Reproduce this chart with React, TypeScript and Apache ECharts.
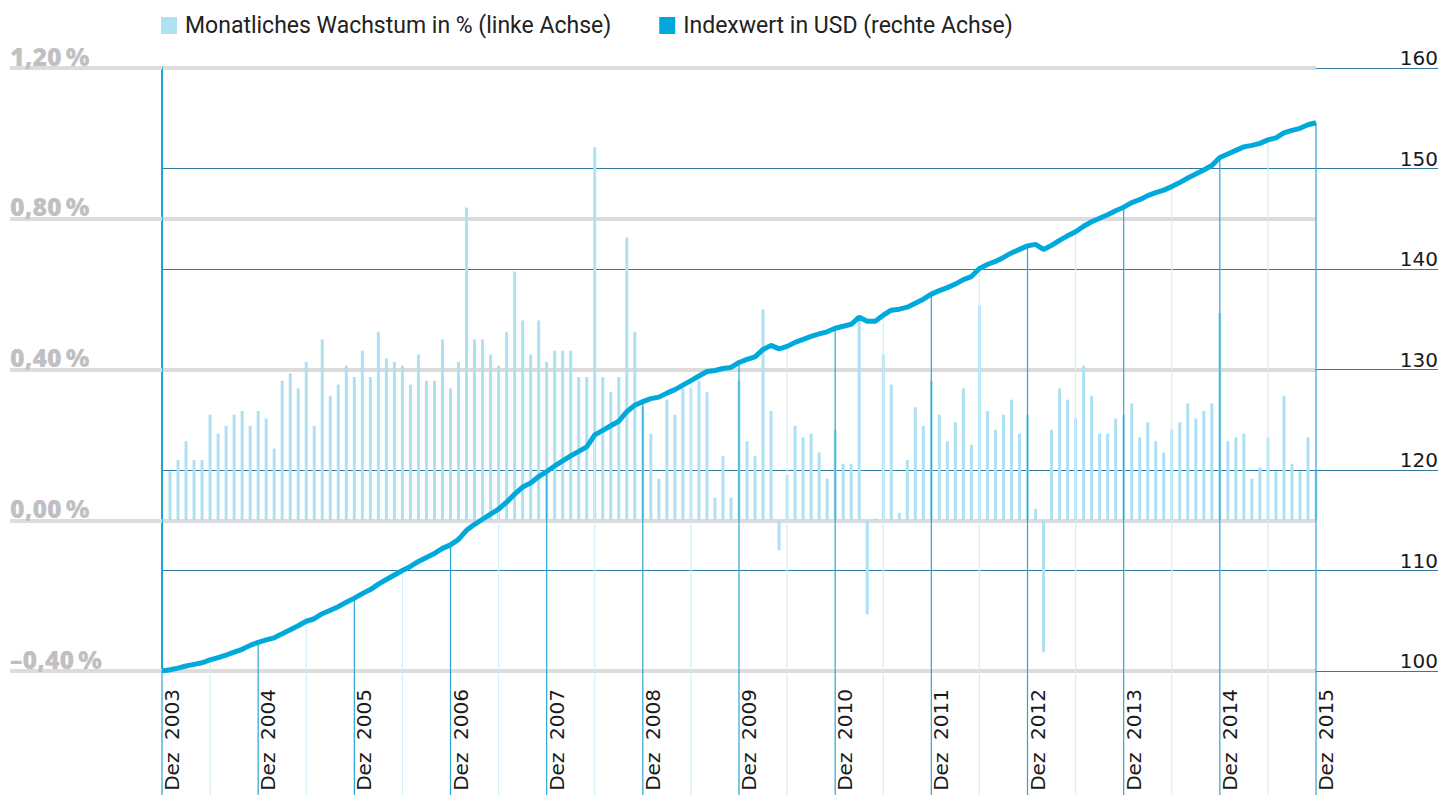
import { useEffect, useRef } from "react";
import * as echarts from "echarts";

// Month names (German) used for category labels
const MONTHS = ["Jan", "Feb", "Mär", "Apr", "Mai", "Jun", "Jul", "Aug", "Sep", "Okt", "Nov", "Dez"];

// Categories: Dez 2003 ... Dez 2015 (145 months)
const categories: string[] = [];
for (let i = 0; i <= 144; i++) {
  const m = (11 + i) % 12;
  const y = 2003 + Math.floor((11 + i) / 12);
  categories.push(`${MONTHS[m]}  ${y}`);
}

// Monthly growth in % (Jan 2004 ... Dez 2015), left axis
const growth: number[] = [
  0.13, 0.16, 0.21, 0.16, 0.16, 0.28, 0.23, 0.25, 0.28, 0.29, 0.25, 0.29,
  0.27, 0.19, 0.37, 0.39, 0.35, 0.42, 0.25, 0.48, 0.33, 0.36, 0.41, 0.38,
  0.45, 0.38, 0.50, 0.43, 0.42, 0.41, 0.36, 0.44, 0.37, 0.37, 0.48, 0.35,
  0.42, 0.83, 0.48, 0.48, 0.44, 0.41, 0.50, 0.66, 0.53, 0.44, 0.53, 0.42,
  0.45, 0.45, 0.45, 0.38, 0.38, 0.99, 0.38, 0.34, 0.38, 0.75, 0.50, 0.30,
  0.23, 0.11, 0.32, 0.28, 0.35, 0.35, 0.37, 0.34, 0.06, 0.17, 0.06, 0.37,
  0.21, 0.17, 0.56, 0.29, -0.08, 0.12, 0.25, 0.22, 0.23, 0.18, 0.11, 0.24,
  0.15, 0.15, 0.53, -0.25, 0.005, 0.44, 0.36, 0.02, 0.16, 0.30, 0.25, 0.37,
  0.28, 0.21, 0.26, 0.35, 0.20, 0.57, 0.29, 0.24, 0.28, 0.32, 0.23, 0.28,
  0.03, -0.35, 0.24, 0.35, 0.32, 0.27, 0.41, 0.33, 0.23, 0.23, 0.27, 0.28,
  0.31, 0.22, 0.26, 0.21, 0.18, 0.24, 0.26, 0.31, 0.27, 0.29, 0.31, 0.55,
  0.21, 0.22, 0.23, 0.11, 0.14, 0.22, 0.13, 0.33, 0.15, 0.13, 0.22, 0.13,
];

// Index value in USD (Dez 2003 ... Dez 2015), right axis
const indexValue: number[] = [
  100.0,
  100.13, 100.29, 100.5, 100.66, 100.82, 101.1, 101.33, 101.58, 101.87, 102.16, 102.55, 102.85,
  103.1, 103.3, 103.7, 104.1, 104.5, 104.95, 105.2, 105.7, 106.05, 106.4, 106.85, 107.25,
  107.7, 108.1, 108.65, 109.1, 109.55, 110.0, 110.4, 110.9, 111.3, 111.7, 112.2, 112.55,
  113.1, 114.0, 114.6, 115.1, 115.6, 116.1, 116.8, 117.6, 118.3, 118.7, 119.35, 119.85,
  120.4, 120.9, 121.4, 121.85, 122.3, 123.5, 123.95, 124.4, 124.85, 125.8, 126.45, 126.8,
  127.1, 127.25, 127.65, 128.0, 128.45, 128.9, 129.35, 129.8, 129.9, 130.1, 130.2, 130.7,
  131.0, 131.25, 132.0, 132.4, 132.05, 132.3, 132.7, 133.0, 133.3, 133.55, 133.75, 134.1,
  134.3, 134.5, 135.2, 134.8, 134.8, 135.4, 135.9, 136.0, 136.2, 136.6, 137.0, 137.5,
  137.85, 138.15, 138.5, 138.95, 139.25, 140.05, 140.45, 140.75, 141.15, 141.6, 141.95, 142.3,
  142.45, 141.95, 142.35, 142.85, 143.3, 143.7, 144.25, 144.7, 145.05, 145.4, 145.8, 146.15,
  146.6, 146.9, 147.3, 147.6, 147.85, 148.2, 148.6, 149.05, 149.45, 149.85, 150.3, 151.1,
  151.45, 151.8, 152.15, 152.3, 152.5, 152.85, 153.05, 153.55, 153.8, 154.0, 154.35, 154.55,
];

// Axis ticks
const leftTicks: number[] = [-0.4, 0, 0.4, 0.8, 1.2];
const rightTicks: number[] = [100, 110, 120, 130, 140, 150, 160];

const BAR_NAME = "Monatliches Wachstum in % (linke Achse)";
const LINE_NAME = "Indexwert in USD (rechte Achse)";

export default function App() {
  const ref = useRef<HTMLDivElement>(null);

  useEffect(() => {
    if (!ref.current) return;
    const chart = echarts.init(ref.current, undefined, { renderer: "svg" });

    const barData: (number | string)[] = ["-", ...growth];
    const dropData: number[][] = [];
    for (let i = 0; i < indexValue.length; i++) {
      if (i % 6 === 0) dropData.push([i, indexValue[i], i % 12 === 0 ? 1 : 0]);
    }

    const grayLine = "#dcdcdc";
    const blueGrid = "#33799f";

    chart.setOption({
      animation: false,
      backgroundColor: "#ffffff",
      legend: {
        left: 161,
        top: 14,
        padding: 0,
        itemWidth: 16,
        itemHeight: 17,
        itemGap: 48,
        textStyle: {
          fontFamily: "Roboto",
          fontSize: 23,
          color: "#222222",
          padding: [0, 0, 0, 3],
        },
        data: [
          { name: BAR_NAME, icon: "rect", itemStyle: { color: "#aee1f3" } },
          { name: LINE_NAME, icon: "rect", itemStyle: { color: "#00a9dc" } },
        ],
        selectedMode: false,
      },
      grid: { left: 162, right: 140, top: 68, bottom: 130, containLabel: false },
      xAxis: {
        type: "category",
        data: categories,
        boundaryGap: false,
        axisLine: { show: false },
        axisTick: { show: false },
        splitLine: { show: false },
        axisLabel: {
          interval: (idx: number) => idx % 12 === 0,
          rotate: 90,
          margin: 18,
          verticalAlign: "top",
          fontFamily: "DejaVu Sans",
          fontSize: 20,
          color: "#1a1a1a",
          formatter: (v: string) => v,
        },
      },
      yAxis: [
        {
          type: "value",
          min: leftTicks[0],
          max: leftTicks[leftTicks.length - 1],
          interval: leftTicks[1] - leftTicks[0],
          position: "left",
          axisLine: { show: true, lineStyle: { color: "#1aa7d8", width: 2 } },
          axisTick: { show: true, length: 152, lineStyle: { color: grayLine, width: 4 } },
          splitLine: { show: true, lineStyle: { color: grayLine, width: 4 } },
          axisLabel: {
            align: "left",
            verticalAlign: "bottom",
            margin: 152,
            fontFamily: "Open Sans",
            fontWeight: 800,
            fontSize: 25,
            color: "#c0c0c3",
            formatter: (v: number) => {
              const s = Math.abs(v).toFixed(2).replace(".", ",");
              return (v < 0 ? "\u2013" : "") + s + "\u2009%";
            },
          },
          z: 1,
        },
        {
          type: "value",
          min: rightTicks[0],
          max: rightTicks[rightTicks.length - 1],
          interval: rightTicks[1] - rightTicks[0],
          position: "right",
          axisLine: { show: false },
          axisTick: { show: true, length: 122, lineStyle: { color: blueGrid, width: 1 } },
          splitLine: { show: true, lineStyle: { color: blueGrid, width: 1 } },
          axisLabel: {
            align: "right",
            verticalAlign: "bottom",
            margin: 122,
            fontFamily: "DejaVu Sans",
            fontSize: 20,
            color: "#1a1a1a",
          },
          z: 0,
        },
      ],
      series: [
        {
          name: BAR_NAME,
          type: "bar",
          yAxisIndex: 0,
          data: barData,
          barWidth: 3,
          itemStyle: { color: "#aee1f3" },
          z: 2,
        },
        {
          type: "custom",
          yAxisIndex: 1,
          data: dropData,
          clip: false,
          z: 3,
          silent: true,
          renderItem: (_params: any, api: any) => {
            const idx = api.value(0);
            const v = api.value(1);
            const major = api.value(2) === 1;
            const top = api.coord([idx, v]);
            const base = api.coord([idx, rightTicks[0]]);
            return {
              type: "line",
              shape: { x1: top[0], y1: top[1], x2: top[0], y2: base[1] + 124 },
              style: { stroke: major ? "#2aa5d6" : "#d3eef8", lineWidth: 1.2 },
            };
          },
        },
        {
          name: LINE_NAME,
          type: "line",
          yAxisIndex: 1,
          data: indexValue,
          showSymbol: false,
          symbol: "none",
          lineStyle: { color: "#00a9dc", width: 5 },
          itemStyle: { color: "#00a9dc" },
          z: 4,
        },
      ],
    });

    return () => chart.dispose();
  }, []);

  return (
    <div
      ref={ref}
      style={{ position: "fixed", left: 0, top: 0, width: 1456, height: 801, background: "#fff" }}
    />
  );
}
